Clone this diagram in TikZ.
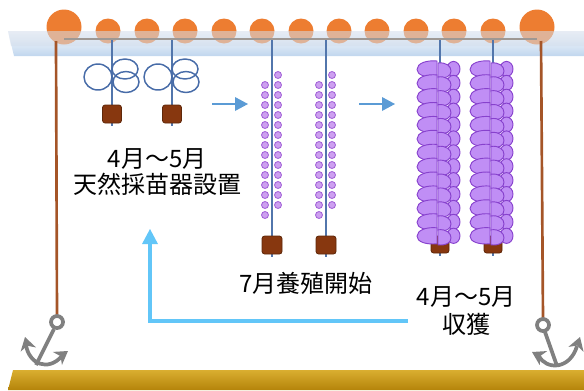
\documentclass[tikz,border=0pt]{standalone}
\usepackage{fontspec}
\setmainfont{Noto Sans CJK JP}

\definecolor{floatorange}{RGB}{237,125,49}
\definecolor{watertop}{RGB}{192,214,238}
\definecolor{waterveil}{RGB}{212,222,236}
\definecolor{ropegray}{RGB}{158,152,148}
\definecolor{moorbrown}{RGB}{165,85,40}
\definecolor{collectorblue}{RGB}{72,108,168}
\definecolor{ropeblue}{RGB}{82,118,172}
\definecolor{weightbrown}{RGB}{135,55,15}
\definecolor{weightedge}{RGB}{95,40,10}
\definecolor{beadfill}{RGB}{205,160,240}
\definecolor{beadedge}{RGB}{160,95,215}
\definecolor{shellfill}{RGB}{192,142,245}
\definecolor{shelledge}{RGB}{135,65,205}
\definecolor{flowblue}{RGB}{91,155,213}
\definecolor{returnblue}{RGB}{98,198,248}
\definecolor{anchorgray}{RGB}{128,128,128}
\definecolor{groundtop}{RGB}{180,132,10}
\definecolor{groundbottom}{RGB}{218,174,48}

\tikzset{every picture/.style={line width=0.75pt}}
\tikzset{
  rope/.style={draw=ropeblue, line width=1.1pt},
  coil/.style={draw=collectorblue, line width=1.1pt},
  sinker/.style={fill=weightbrown, draw=weightedge, line width=0.6pt, rounded corners=2pt},
  bead/.style={fill=beadfill, draw=beadedge, line width=0.6pt},
  shell/.style={fill=shellfill, draw=shelledge, line width=0.7pt},
  anchorline/.style={draw=anchorgray, line width=2.8pt},
  label/.style={inner sep=0pt, align=center}
}

\begin{document}
\begin{tikzpicture}[x=0.75pt,y=0.75pt,yscale=-1,xscale=1]
\useasboundingbox (0,0) rectangle (584,390);

%Sea surface (shading is flipped by yscale)
\shade [top color=white, bottom color=watertop] (8,31) -- (584,31) -- (584,56) -- (14,56) -- cycle ;

%Floats
\fill [floatorange] (64,27) circle (17.5) ;
\fill [floatorange] (537,27) circle (17.5) ;
\foreach \fx in {108,147,185,224,262,301,339,377,416,454,493} {
  \fill [floatorange] (\fx,31) circle (12.5) ;
}
%Floats under water
\fill [waterveil, fill opacity=0.55] (8,31) -- (584,31) -- (584,46) -- (11,46) -- cycle ;

%Main line
\draw [draw=ropegray, line width=2.2pt] (64,39) -- (537,39) ;

%Mooring lines
\draw [draw=moorbrown, line width=2pt] (56,41) -- (57,316) ;
\draw [draw=moorbrown, line width=2pt] (541,41) -- (543,319) ;

%Sea floor
\shade [top color=groundbottom, bottom color=groundtop] (13,370) -- (584,370) -- (584,390) -- (8,390) -- cycle ;

%Anchor left
\draw [anchorline] (57,322) circle (6) ;
\draw [anchorline] (54,329) -- (36,365) ;
\draw [anchorline] (26,345) .. controls (29,364) and (48,372) .. (62,356) ;
\draw [shift={(25,337)}, rotate = 75] [fill=anchorgray][draw opacity=0] (13,-8) -- (0,0) -- (13,8) -- (9,0) -- cycle ;
\draw [shift={(68,351)}, rotate = 145] [fill=anchorgray][draw opacity=0] (13,-8) -- (0,0) -- (13,8) -- (9,0) -- cycle ;
%Anchor right
\draw [anchorline] (543,325) circle (6) ;
\draw [anchorline] (545,332) -- (557,366) ;
\draw [anchorline] (539,356) .. controls (546,370) and (570,370) .. (577,346) ;
\draw [shift={(532,352)}, rotate = 28] [fill=anchorgray][draw opacity=0] (13,-8) -- (0,0) -- (13,8) -- (9,0) -- cycle ;
\draw [shift={(580,337)}, rotate = 108] [fill=anchorgray][draw opacity=0] (13,-8) -- (0,0) -- (13,8) -- (9,0) -- cycle ;

%Spat collectors
\foreach \cx in {112,172} {
  \draw [rope] (\cx,40) -- (\cx,126) ;
  \draw [coil] (\cx-14,77) ellipse [x radius=14, y radius=13] ;
  \draw [coil] (\cx+13,69) ellipse [x radius=13, y radius=10] ;
  \draw [coil] (\cx+14,82) ellipse [x radius=13, y radius=10.5] ;
  \draw [sinker] (\cx-9.5,105) rectangle (\cx+9.5,123) ;
}

%Young oysters
\foreach \cx in {272,326} {
  \draw [rope] (\cx,40) -- (\cx,257) ;
  \foreach \k in {0,...,13} {
    \draw [bead] (\cx+6,75+10*\k) circle (3.5) ;
    \draw [bead] (\cx-7,85+10*\k) circle (3.5) ;
  }
  \draw [sinker] (\cx-10,236) rectangle (\cx+10,254) ;
}

%Grown oysters
\foreach \cx in {440,493} {
  \draw [rope] (\cx,40) -- (\cx,256) ;
  \draw [sinker] (\cx-9,236) rectangle (\cx+9,253) ;
  \foreach \k in {0,...,12} {
    \draw [shell] (\cx+13.5,69+13.9*\k) ellipse [x radius=6.5, y radius=7.6] ;
  }
  \foreach \k in {0,...,12} {
    \pgfmathsetmacro{\sy}{63+13.9*\k}
    \draw [shell] (\cx-2,\sy) .. controls (\cx+6,\sy-1) and (\cx+11,\sy+3) .. (\cx+11,\sy+8) .. controls (\cx+11,\sy+13) and (\cx+6,\sy+16) .. (\cx-2,\sy+15) -- cycle ;
  }
  \foreach \k in {0,...,12} {
    \pgfmathsetmacro{\sy}{61+13.9*\k}
    \draw [shell] (\cx-3,\sy) .. controls (\cx-13,\sy-1) and (\cx-23,\sy+2) .. (\cx-23,\sy+8.5) .. controls (\cx-23,\sy+14) and (\cx-14,\sy+17) .. (\cx-3,\sy+16) -- cycle ;
  }
}

%Flow arrows
\coordinate (a1s) at (212,104) ;
\coordinate (a1e) at (236,104) ;
\coordinate (a2s) at (359,104) ;
\coordinate (a2e) at (383,104) ;
\draw [draw=flowblue, line width=2.2pt] (a1s) -- (a1e) ;
\draw [shift={(248,104)}, rotate = 180] [fill=flowblue][draw opacity=0] (13,-7) -- (0,0) -- (13,7) -- cycle ;
\draw [draw=flowblue, line width=2.2pt] (a2s) -- (a2e) ;
\draw [shift={(395,104)}, rotate = 180] [fill=flowblue][draw opacity=0] (13,-7) -- (0,0) -- (13,7) -- cycle ;

% Text Node
\node (setsuchi) [label, font=\fontsize{18}{20}\selectfont] at (157,172) {4月～5月\\天然採苗器設置};
% Text Node
\node (yoshoku) [label, font=\fontsize{18}{20}\selectfont] at (306,283) {7月養殖開始};
% Text Node
\node (shukaku) [label, font=\fontsize{18}{21}\selectfont] at (466,311) {4月～5月\\収獲};

%Return arrow
\coordinate (r0) at (408,321) ;
\coordinate (r1) at (150,241) ;
\draw [draw=returnblue, line width=3pt] (r0) -| (r1) ;
\draw [shift={(150,229)}, rotate = 90] [fill=returnblue][draw opacity=0] (15,-8) -- (0,0) -- (15,8) -- cycle ;

\end{tikzpicture}
\end{document}
